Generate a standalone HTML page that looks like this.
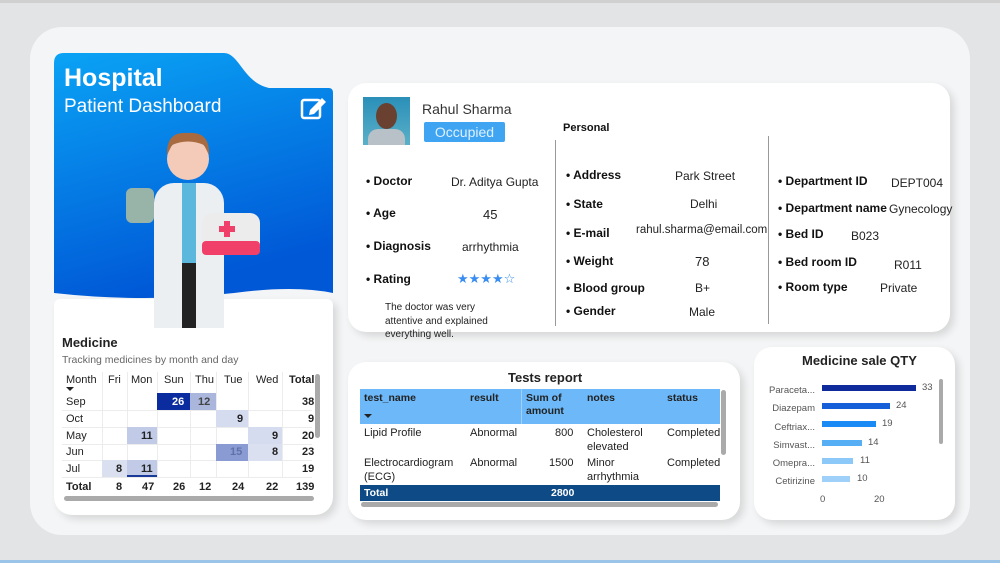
<!DOCTYPE html>
<html><head><meta charset="utf-8"><style>
*{margin:0;padding:0;box-sizing:border-box}
body{width:1000px;height:563px;background:#e3e4e5;font-family:"Liberation Sans","DejaVu Sans",sans-serif;position:relative;overflow:hidden;color:#222}
.a{position:absolute}
.card{position:absolute;background:#fff;border-radius:18px;box-shadow:4px 4px 8px rgba(0,0,0,.12)}
.b{font-weight:bold}
.lbl{font-size:12px;font-weight:bold;color:#111}
.val{font-size:12px;color:#222}
.gl{position:absolute;background:#ececec}
</style></head><body>
<div class="a" style="left:0;top:0;width:1000px;height:3px;background:#d0d0d0"></div>
<div class="a" style="left:0;top:560px;width:1000px;height:3px;background:#9ac4e8"></div>
<div class="a" style="left:30px;top:27px;width:940px;height:508px;background:#f4f5f6;border-radius:32px"></div>

<svg class="a" style="left:54px;top:53px" width="280" height="250">
<defs><linearGradient id="g" x1="0" y1="0" x2="0.3" y2="1"><stop offset="0" stop-color="#0aa3f5"/><stop offset="1" stop-color="#0058d6"/></linearGradient></defs>
<path d="M10 0 H170 C185 0 190 30 215 35 H275 Q279 35 279 40 V240 Q240 232 180 240 Q90 250 0 240 V10 Q0 0 10 0Z" fill="url(#g)"/>
<rect x="100" y="130" width="70" height="145" rx="20" fill="#eceff1"/>
<rect x="128" y="130" width="14" height="80" fill="#5bb8dc"/>
<circle cx="134" cy="106" r="21" fill="#f3cbb8"/>
<path d="M113 102 Q112 78 134 80 Q156 78 155 102 L150 92 Q134 85 118 92Z" fill="#a86a3e"/>
<rect x="72" y="135" width="28" height="35" rx="6" fill="#98b4a8"/>
<rect x="148" y="160" width="58" height="42" rx="10" fill="#ececec"/>
<rect x="148" y="188" width="58" height="14" rx="4" fill="#f0406a"/>
<rect x="170" y="168" width="6" height="16" fill="#f0406a"/><rect x="165" y="173" width="16" height="6" fill="#f0406a"/>
<rect x="128" y="210" width="14" height="65" fill="#222"/>
<rect x="248" y="47" width="18" height="18" rx="2" fill="none" stroke="#fff" stroke-width="2.5"/>
<path d="M256 57 L268 45 L272 49 L260 61 L255 62Z" fill="#fff"/>
</svg>
<div class="a b" style="left:64px;top:64px;font-size:25px;color:#fff">Hospital</div>
<div class="a" style="left:64px;top:96px;font-size:19px;color:#fff">Patient Dashboard</div>

<div class="card" style="left:54px;top:299px;width:279px;height:216px;border-radius:6px 6px 18px 18px;z-index:0"></div>
<svg class="a" style="left:54px;top:53px;z-index:1" width="280" height="280"><rect x="100" y="240" width="70" height="35" fill="#eceff1"/><rect x="128" y="240" width="14" height="35" fill="#222"/></svg>
<div class="a b" style="left:62px;top:335px;font-size:13px;z-index:2">Medicine</div>
<div class="a" style="left:62px;top:354px;font-size:10.5px;color:#666;z-index:2">Tracking medicines by month and day</div>
<div class="a" style="left:62px;top:372px;width:258px;height:125px;font-size:11px;z-index:2">
<div class="gl" style="left:0;top:38px;width:250px;height:1px"></div>
<div class="gl" style="left:0;top:55px;width:250px;height:1px"></div>
<div class="gl" style="left:0;top:72px;width:250px;height:1px"></div>
<div class="gl" style="left:0;top:88px;width:250px;height:1px"></div>
<div class="gl" style="left:0;top:105px;width:250px;height:1px"></div>
<div class="gl" style="left:40px;top:0;width:1px;height:105px"></div>
<div class="gl" style="left:65px;top:0;width:1px;height:105px"></div>
<div class="gl" style="left:95px;top:0;width:1px;height:105px"></div>
<div class="gl" style="left:128px;top:0;width:1px;height:105px"></div>
<div class="gl" style="left:154px;top:0;width:1px;height:105px"></div>
<div class="gl" style="left:186px;top:0;width:1px;height:105px"></div>
<div class="gl" style="left:220px;top:0;width:1px;height:105px"></div>
<div class="a" style="left:4px;top:2px">Month</div><div class="a" style="left:46px;top:2px">Fri</div><div class="a" style="left:69px;top:2px">Mon</div><div class="a" style="left:102px;top:2px">Sun</div><div class="a" style="left:133px;top:2px">Thu</div><div class="a" style="left:162px;top:2px">Tue</div><div class="a" style="left:194px;top:2px">Wed</div><div class="a b" style="left:227px;top:2px">Total</div>
<div class="a" style="left:4px;top:15px;border:4px solid transparent;border-top:4px solid #222"></div>
<div class="a" style="left:95px;top:21px;width:33px;height:17px;background:#0b2c9e"></div>
<div class="a" style="left:128px;top:21px;width:26px;height:17px;background:#aab6dc"></div>
<div class="a" style="left:154px;top:38px;width:32px;height:17px;background:#d6dcef"></div>
<div class="a" style="left:65px;top:55px;width:30px;height:17px;background:#c1cbe8"></div>
<div class="a" style="left:186px;top:55px;width:34px;height:17px;background:#d6dcef"></div>
<div class="a" style="left:154px;top:72px;width:32px;height:17px;background:#8a9ad2"></div>
<div class="a" style="left:186px;top:72px;width:34px;height:17px;background:#dbe0f1"></div>
<div class="a" style="left:40px;top:88px;width:25px;height:17px;background:#dbe0f1"></div>
<div class="a" style="left:65px;top:88px;width:30px;height:17px;background:#c1cbe8;border-bottom:2px solid #1a3a9a"></div>
<div class="a" style="left:4px;top:24px">Sep</div><div class="a" style="left:4px;top:41px">Oct</div><div class="a" style="left:4px;top:58px">May</div><div class="a" style="left:4px;top:74px">Jun</div><div class="a" style="left:4px;top:91px">Jul</div>
<div class="a b" style="left:110px;top:24px;color:#fff">26</div><div class="a b" style="left:136px;top:24px;color:#444">12</div><div class="a b" style="left:240px;top:24px">38</div>
<div class="a b" style="left:175px;top:41px">9</div><div class="a b" style="left:246px;top:41px">9</div>
<div class="a b" style="left:79px;top:58px">11</div><div class="a b" style="left:210px;top:58px">9</div><div class="a b" style="left:240px;top:58px">20</div>
<div class="a b" style="left:168px;top:74px;color:#6070a8">15</div><div class="a b" style="left:210px;top:74px">8</div><div class="a b" style="left:240px;top:74px">23</div>
<div class="a b" style="left:54px;top:91px">8</div><div class="a b" style="left:79px;top:91px">11</div><div class="a b" style="left:240px;top:91px">19</div>
<div class="a b" style="left:4px;top:109px">Total</div><div class="a b" style="left:54px;top:109px">8</div><div class="a b" style="left:80px;top:109px">47</div><div class="a b" style="left:111px;top:109px">26</div><div class="a b" style="left:137px;top:109px">12</div><div class="a b" style="left:170px;top:109px">24</div><div class="a b" style="left:204px;top:109px">22</div><div class="a b" style="left:234px;top:109px">139</div>
<div class="a" style="left:253px;top:2px;width:5px;height:64px;background:#aaa;border-radius:3px"></div>
<div class="a" style="left:2px;top:124px;width:250px;height:5px;background:#aaa;border-radius:3px"></div>
</div>

<div class="card" style="left:348px;top:83px;width:602px;height:249px"></div>
<div class="a" style="left:363px;top:97px;width:47px;height:48px;background:linear-gradient(#2a8fb8,#5ab0c8)"><div class="a" style="left:13px;top:6px;width:21px;height:26px;background:#6a4030;border-radius:50%"></div><div class="a" style="left:5px;top:32px;width:37px;height:16px;background:#b8c0c8;border-radius:10px 10px 0 0"></div></div>
<div class="a" style="left:422px;top:101px;font-size:14px;color:#333">Rahul Sharma</div>
<div class="a" style="left:424px;top:122px;width:81px;height:20px;background:#3fa5f2;border-radius:2px;color:#dff0ff;font-size:14px;text-align:center;line-height:21px">Occupied</div>
<div class="a lbl" style="left:563px;top:122px;font-size:11px">Personal</div>
<div class="a" style="left:555px;top:140px;width:1px;height:186px;background:#999"></div>
<div class="a" style="left:768px;top:136px;width:1px;height:188px;background:#999"></div>
<div class="a lbl" style="left:366px;top:174px">• Doctor</div><div class="a val" style="left:451px;top:175px">Dr. Aditya Gupta</div>
<div class="a lbl" style="left:366px;top:206px">• Age</div><div class="a val" style="left:483px;top:207px;font-size:13px">45</div>
<div class="a lbl" style="left:366px;top:239px">• Diagnosis</div><div class="a val" style="left:462px;top:240px">arrhythmia</div>
<div class="a lbl" style="left:366px;top:272px">• Rating</div><div class="a" style="left:457px;top:271px;font-size:13px;color:#3a8df0;letter-spacing:0px">★★★★☆</div>
<div class="a" style="left:385px;top:301px;font-size:10px;line-height:13.5px;color:#222">The doctor was very<br>attentive and explained<br>everything well.</div>
<div class="a lbl" style="left:566px;top:168px">• Address</div><div class="a val" style="left:675px;top:169px">Park Street</div>
<div class="a lbl" style="left:566px;top:197px">• State</div><div class="a val" style="left:690px;top:197px">Delhi</div>
<div class="a lbl" style="left:566px;top:226px">• E-mail</div><div class="a val" style="left:636px;top:224px;font-size:11.5px">rahul.sharma@email.com</div>
<div class="a lbl" style="left:566px;top:254px">• Weight</div><div class="a val" style="left:695px;top:254px;font-size:13px">78</div>
<div class="a lbl" style="left:566px;top:281px">• Blood group</div><div class="a val" style="left:695px;top:281px">B+</div>
<div class="a lbl" style="left:566px;top:304px">• Gender</div><div class="a val" style="left:689px;top:305px">Male</div>
<div class="a lbl" style="left:778px;top:174px">• Department ID</div><div class="a val" style="left:891px;top:176px">DEPT004</div>
<div class="a lbl" style="left:778px;top:201px">• Department name</div><div class="a val" style="left:889px;top:202px">Gynecology</div>
<div class="a lbl" style="left:778px;top:227px">• Bed ID</div><div class="a val" style="left:851px;top:229px">B023</div>
<div class="a lbl" style="left:778px;top:255px">• Bed room ID</div><div class="a val" style="left:894px;top:258px">R011</div>
<div class="a lbl" style="left:778px;top:280px">• Room type</div><div class="a val" style="left:880px;top:281px">Private</div>

<div class="card" style="left:348px;top:362px;width:392px;height:158px"></div>
<div class="a b" style="left:508px;top:370px;font-size:13px">Tests report</div>
<div class="a" style="left:360px;top:389px;width:360px;height:35px;background:#6cb8f8"></div>
<div class="a" style="left:521px;top:389px;width:1px;height:35px;background:#a0d0ff"></div>
<div class="a b" style="left:364px;top:392px;font-size:10.5px">test_name</div><div class="a" style="left:364px;top:414px;border:4px solid transparent;border-top:4px solid #222"></div>
<div class="a b" style="left:470px;top:392px;font-size:10.5px">result</div>
<div class="a b" style="left:526px;top:392px;font-size:10.5px;line-height:13px">Sum of<br>amount</div>
<div class="a b" style="left:587px;top:392px;font-size:10.5px">notes</div>
<div class="a b" style="left:667px;top:392px;font-size:10.5px">status</div>
<div class="a" style="left:364px;top:427px;font-size:11px;line-height:13.5px">Lipid Profile</div>
<div class="a" style="left:470px;top:427px;font-size:11px">Abnormal</div>
<div class="a" style="left:555px;top:427px;font-size:11px">800</div>
<div class="a" style="left:587px;top:427px;font-size:11px;line-height:13.5px">Cholesterol<br>elevated</div>
<div class="a" style="left:667px;top:427px;font-size:11px">Completed</div>
<div class="a" style="left:364px;top:457px;font-size:11px;line-height:13.5px">Electrocardiogram<br>(ECG)</div>
<div class="a" style="left:470px;top:457px;font-size:11px">Abnormal</div>
<div class="a" style="left:549px;top:457px;font-size:11px">1500</div>
<div class="a" style="left:587px;top:457px;font-size:11px;line-height:13.5px">Minor<br>arrhythmia</div>
<div class="a" style="left:667px;top:457px;font-size:11px">Completed</div>
<div class="a" style="left:360px;top:485px;width:360px;height:16px;background:#0e4a86"></div>
<div class="a b" style="left:364px;top:487px;font-size:10.5px;color:#fff">Total</div>
<div class="a b" style="left:551px;top:487px;font-size:10.5px;color:#fff">2800</div>
<div class="a" style="left:361px;top:502px;width:357px;height:5px;background:#aaa;border-radius:3px"></div>
<div class="a" style="left:721px;top:390px;width:5px;height:65px;background:#aaa;border-radius:3px"></div>

<div class="card" style="left:754px;top:347px;width:201px;height:173px"></div>
<div class="a b" style="left:802px;top:353px;font-size:13px">Medicine sale QTY</div>
<div class="a" style="left:755px;top:382px;width:60px;font-size:9.5px;color:#555;text-align:right;line-height:18.3px">Paraceta...<br>Diazepam<br>Ceftriax...<br>Simvast...<br>Omepra...<br>Cetirizine</div>
<div class="a" style="left:822px;top:385px;width:94px;height:6px;background:#0f2a9a"></div><div class="a" style="left:922px;top:382px;font-size:9.5px;color:#555">33</div>
<div class="a" style="left:822px;top:403px;width:68px;height:6px;background:#1560d8"></div><div class="a" style="left:896px;top:400px;font-size:9.5px;color:#555">24</div>
<div class="a" style="left:822px;top:421px;width:54px;height:6px;background:#1a8af5"></div><div class="a" style="left:882px;top:418px;font-size:9.5px;color:#555">19</div>
<div class="a" style="left:822px;top:440px;width:40px;height:6px;background:#56aef5"></div><div class="a" style="left:868px;top:437px;font-size:9.5px;color:#555">14</div>
<div class="a" style="left:822px;top:458px;width:31px;height:6px;background:#8cc8f8"></div><div class="a" style="left:860px;top:455px;font-size:9.5px;color:#555">11</div>
<div class="a" style="left:822px;top:476px;width:28px;height:6px;background:#9ed0fa"></div><div class="a" style="left:857px;top:473px;font-size:9.5px;color:#555">10</div>
<div class="a" style="left:820px;top:494px;font-size:9.5px;color:#555">0</div><div class="a" style="left:874px;top:494px;font-size:9.5px;color:#555">20</div>
<div class="a" style="left:939px;top:379px;width:4px;height:65px;background:#aaa;border-radius:2px"></div>
</body></html>
